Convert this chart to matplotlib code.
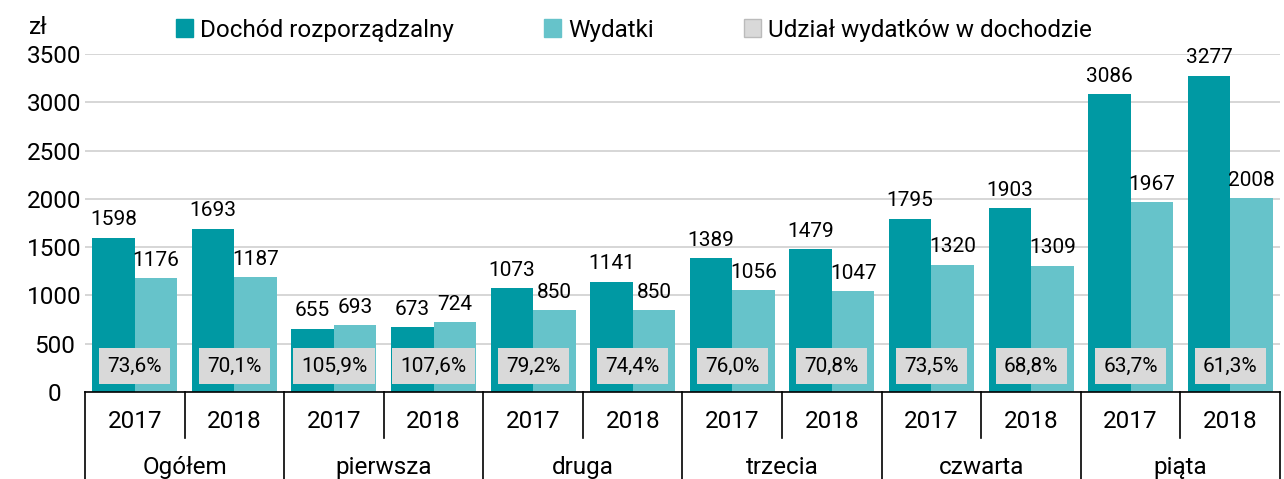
import numpy as np
import matplotlib.pyplot as plt
from matplotlib.patches import Patch

plt.rcParams['font.family'] = ['Roboto', 'DejaVu Sans']

categories = ['Ogółem', 'pierwsza', 'druga', 'trzecia', 'czwarta', 'piąta']
years = ['2017', '2018']
dochod = [1598, 1693, 655, 673, 1073, 1141, 1389, 1479, 1795, 1903, 3086, 3277]
wydatki = [1176, 1187, 693, 724, 850, 850, 1056, 1047, 1320, 1309, 1967, 2008]
udzial = ['73,6%', '70,1%', '105,9%', '107,6%', '79,2%', '74,4%',
          '76,0%', '70,8%', '73,5%', '68,8%', '63,7%', '61,3%']

dark = '#0099a3'
light = '#66c3ca'
grey = '#d9d9d9'
big = 17.5
small = 15

fig = plt.figure(figsize=(12.84, 4.79), dpi=100)
ax = fig.add_axes([85/1284, 87/479, 1195/1284, 338/479])

n = len(dochod)
x = np.arange(n)
w = 0.427
b1 = ax.bar(x - w/2, dochod, w, color=dark, label='Dochód rozporządzalny', zorder=2)
b2 = ax.bar(x + w/2, wydatki, w, color=light, label='Wydatki', zorder=2)

for rect, v in zip(b1, dochod):
    ax.annotate(str(v), (rect.get_x() + rect.get_width()/2, v), xytext=(0, 6),
                textcoords='offset points', ha='center', va='bottom', fontsize=small)
for rect, v in zip(b2, wydatki):
    ax.annotate(str(v), (rect.get_x() + rect.get_width()/2, v), xytext=(0, 6),
                textcoords='offset points', ha='center', va='bottom', fontsize=small)

for xi, s in zip(x, udzial):
    ax.text(xi, 270, s, ha='center', va='center', fontsize=small, zorder=3,
            bbox=dict(boxstyle='square,pad=0.4', fc=grey, ec='none'))

ax.set_xlim(-0.5, n - 0.5)
ax.set_ylim(0, 3500)
ax.set_yticks(np.arange(0, 3501, 500))
ax.tick_params(axis='y', length=0, labelsize=big, pad=22)
for lbl in ax.get_yticklabels():
    lbl.set_horizontalalignment('center')
ax.yaxis.grid(True, color='#d0d0d0', lw=1.2, zorder=0)
ax.set_axisbelow(True)
for s in ['left', 'right', 'top']:
    ax.spines[s].set_visible(False)
ax.spines['bottom'].set_color('black')
ax.spines['bottom'].set_linewidth(1.2)
ax.set_xticks([])

# two-level category axis
trans = ax.get_xaxis_transform()
for i in range(n + 1):
    xb = i - 0.5
    y_end = -0.31 if i % 2 == 0 else -0.135
    ax.plot([xb, xb], [0, y_end], color='black', lw=1.2, transform=trans, clip_on=False)
for xi in x:
    ax.text(xi, -0.088, years[xi % 2], ha='center', va='center', fontsize=big,
            transform=trans)
for j, c in enumerate(categories):
    ax.text(2*j + 0.5, -0.222, c, ha='center', va='center', fontsize=big,
            transform=trans)

fig.text(38/1284, 1 - 27/479, 'zł', ha='center', va='center', fontsize=big)

handles = [Patch(color=dark, label='Dochód rozporządzalny'),
           Patch(color=light, label='Wydatki'),
           Patch(fc=grey, ec='#bbbbbb', label='Udział wydatków w dochodzie')]
fig.legend(handles=handles, loc='center', bbox_to_anchor=(634/1284, 1 - 30/479),
           ncol=3, frameon=False, fontsize=big, handlelength=0.7, handleheight=0.7,
           handletextpad=0.3, columnspacing=3.7)

fig.savefig('out.png', dpi=100)
